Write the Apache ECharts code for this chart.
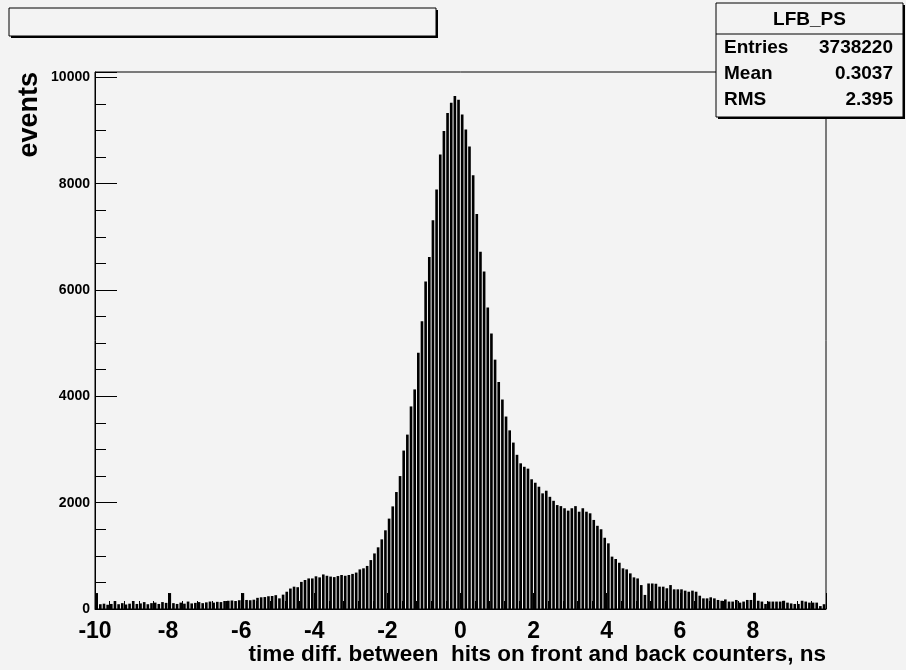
<!DOCTYPE html>
<html>
<head>
<meta charset="utf-8">
<script src="https://cdn.jsdelivr.net/npm/echarts@6/dist/echarts.min.js"></script>
<style>
  html, body { margin: 0; padding: 0; background: #f3f3f3; }
  #chart { width: 906px; height: 670px; }
</style>
</head>
<body>
<div id="chart"></div>
<script>
// Histogram LFB_PS: 200 bins of 0.1 ns between -10 and 10 ns
const histName = 'LFB_PS';
const binStart = -10;
const binWidth = 0.1;
const counts = [
  300, 90, 100, 80, 95, 150, 90, 110, 85, 100,
  150, 95, 105, 130, 90, 110, 120, 95, 130, 115,
  300, 110, 95, 120, 100, 140, 105, 115, 130, 110,
  125, 140, 120, 135, 130, 150, 155, 160, 150, 165,
  300, 170, 165, 175, 210, 220, 225, 240, 245, 260,
  200, 270, 325, 385, 420, 410, 510, 545, 575, 575,
  615, 595, 650, 625, 610, 600, 620, 640, 625, 640,
  660, 685, 745, 765, 810, 920, 1045, 1160, 1310, 1480,
  1700, 1930, 2200, 2500, 2980, 3280, 3810, 4130, 4820, 5410,
  6160, 6620, 7310, 7890, 8550, 8990, 9330, 9520, 9650, 9580,
  9300, 9020, 8700, 8160, 7430, 6720, 6350, 5670, 5180, 4690,
  4270, 3940, 3620, 3360, 3130, 2900, 2740, 2675, 2640, 2440,
  2375, 2300, 2175, 2225, 2110, 2035, 1955, 1935, 1895, 1850,
  1895, 1935, 1830, 1895, 1830, 1800, 1675, 1565, 1500, 1340,
  1235, 985, 940, 870, 765, 745, 670, 595, 575, 450,
  265, 480, 480, 475, 420, 420, 390, 450, 370, 370,
  370, 345, 325, 345, 325, 250, 200, 200, 220, 200,
  170, 155, 180, 140, 140, 170, 120, 140, 170, 170,
  305, 155, 140, 95, 140, 140, 140, 140, 155, 120,
  105, 95, 95, 155, 140, 120, 120, 120, 55, 90
];

// Statistics box contents
const statLabels = ['Entries', 'Mean', 'RMS'];
const statValues = ['3738220', '0.3037', '2.395'];

// Axis settings
const xTicks = [-10, -8, -6, -4, -2, 0, 2, 4, 6, 8];
const yMaxTick = 10000;
const xTitle = 'time diff. between  hits on front and back counters, ns';
const yTitle = 'events';

const FONT = 'Liberation Sans, Arial, Helvetica, sans-serif';
const BG = '#f3f3f3';

const binData = counts.map((c, i) => [binStart + i * binWidth, binStart + (i + 1) * binWidth, c]);

const chart = echarts.init(document.getElementById('chart'), null, { renderer: 'canvas' });

function renderBin(params, api) {
  const top = api.coord([api.value(0), api.value(2)]);
  const bottom = api.coord([api.value(1), 0]);
  const w = bottom[0] - top[0];
  return {
    type: 'rect',
    shape: { x: top[0] + w * 0.1, y: top[1], width: w * 0.72, height: bottom[1] - top[1] },
    style: { fill: '#000' }
  };
}

// Stats box layout
const sb = { x: 716, y: 3, w: 187, h: 114, head: 31 };
const statRows = [];
statLabels.forEach((lab, i) => {
  const cy = sb.y + sb.head + 14 + i * 26;
  statRows.push({ type: 'text', z: 101, style: { x: sb.x + 8, y: cy, text: lab, font: 'bold 19px ' + FONT, fill: '#000', verticalAlign: 'middle', align: 'left' } });
  statRows.push({ type: 'text', z: 101, style: { x: sb.x + sb.w - 10, y: cy, text: statValues[i], font: 'bold 19px ' + FONT, fill: '#000', verticalAlign: 'middle', align: 'right' } });
});

chart.setOption({
  backgroundColor: BG,
  animation: false,
  grid: { left: 95, top: 72, width: 731, height: 537, show: true, borderColor: '#000', borderWidth: 1, backgroundColor: BG },
  xAxis: {
    type: 'value', min: -10, max: 10, interval: 2,
    axisLine: { show: true, onZero: false, lineStyle: { color: '#000', width: 1 } },
    axisTick: { show: true, inside: true, length: 16, lineStyle: { color: '#000' } },
    minorTick: { show: true, splitNumber: 5, length: 8, lineStyle: { color: '#000' } },
    splitLine: { show: false },
    axisLabel: {
      showMaxLabel: false, margin: 11, color: '#000', fontFamily: FONT, fontWeight: 'bold', fontSize: 23,
      formatter: v => (xTicks.indexOf(v) >= 0 ? String(v) : '')
    }
  },
  yAxis: {
    type: 'value', min: 0, max: 10100, interval: 2000,
    axisLine: { show: true, onZero: false, lineStyle: { color: '#000', width: 1 } },
    axisTick: { show: true, inside: true, length: 22, lineStyle: { color: '#000' } },
    minorTick: { show: true, splitNumber: 4, length: 11, lineStyle: { color: '#000' } },
    splitLine: { show: false },
    axisLabel: {
      showMaxLabel: false, margin: 5, color: '#000', fontFamily: FONT, fontWeight: 'bold', fontSize: 14,
      formatter: v => (v <= yMaxTick ? String(v) : '')
    }
  },
  series: [{
    type: 'custom',
    renderItem: renderBin,
    data: binData,
    encode: { x: [0, 1], y: 2 },
    clip: true
  }],
  graphic: [
    // title pad with drop shadow
    { type: 'rect', z: 100, shape: { x: 11, y: 10, width: 427, height: 28 }, style: { fill: '#000' } },
    { type: 'rect', z: 100, shape: { x: 9, y: 8, width: 427, height: 28 }, style: { fill: BG, stroke: '#000', lineWidth: 1 } },
    // statistics box with drop shadow
    { type: 'rect', z: 100, shape: { x: sb.x + 2, y: sb.y + 2, width: sb.w, height: sb.h }, style: { fill: '#000' } },
    { type: 'rect', z: 100, shape: { x: sb.x, y: sb.y, width: sb.w, height: sb.h }, style: { fill: BG, stroke: '#000', lineWidth: 1 } },
    { type: 'line', z: 101, shape: { x1: sb.x, y1: sb.y + sb.head, x2: sb.x + sb.w, y2: sb.y + sb.head }, style: { stroke: '#000', lineWidth: 1 } },
    { type: 'text', z: 101, style: { x: sb.x + sb.w / 2, y: sb.y + sb.head / 2 + 1, text: histName, font: 'bold 19px ' + FONT, fill: '#000', align: 'center', verticalAlign: 'middle' } },
    ...statRows,
    // axis titles
    { type: 'text', z: 101, style: { x: 826, y: 655, text: xTitle, font: 'bold 22.5px ' + FONT, fill: '#000', align: 'right', verticalAlign: 'middle' } },
    { type: 'text', z: 101, x: 30, y: 72, rotation: Math.PI / 2, style: { x: 0, y: 0, text: yTitle, font: 'bold 27px ' + FONT, fill: '#000', align: 'right', verticalAlign: 'middle' } }
  ]
});
</script>
</body>
</html>
